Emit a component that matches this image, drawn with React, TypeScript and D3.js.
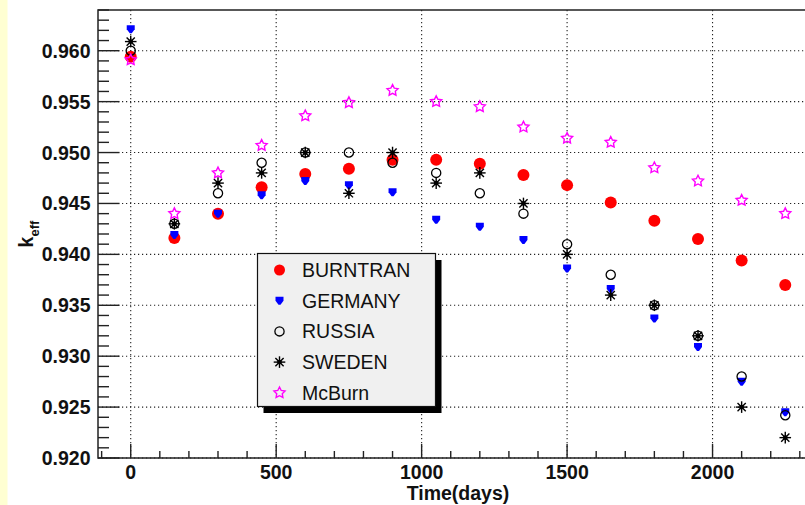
import { useEffect, useRef } from "react";
import * as d3 from "d3";

const days = [0, 150, 300, 450, 600, 750, 900, 1050, 1200, 1350, 1500, 1650, 1800, 1950, 2100, 2250];

const burntran = [0.9594, 0.9416, 0.944, 0.9466, 0.9479, 0.9484, 0.9493, 0.9493, 0.9489, 0.9478, 0.9468, 0.9451, 0.9433, 0.9415, 0.9394, 0.937];
const germany = [0.9621, 0.9419, 0.944, 0.9458, 0.9472, 0.9468, 0.9461, 0.9434, 0.9427, 0.9414, 0.9386, 0.9366, 0.9337, 0.9309, 0.9275, 0.9245];
const russia = [0.96, 0.943, 0.946, 0.949, 0.95, 0.95, 0.949, 0.948, 0.946, 0.944, 0.941, 0.938, 0.935, 0.932, 0.928, 0.9242];
const sweden = [0.9609, 0.943, 0.947, 0.948, 0.95, 0.946, 0.95, 0.947, 0.948, 0.945, 0.94, 0.936, 0.935, 0.932, 0.925, 0.922];
const mcburn = [0.9591, 0.944, 0.948, 0.9507, 0.9536, 0.9549, 0.9561, 0.955, 0.9545, 0.9525, 0.9514, 0.951, 0.9485, 0.9472, 0.9453, 0.944];

const seriesNames = ["BURNTRAN", "GERMANY", "RUSSIA", "SWEDEN", "McBurn"];
const seriesValues = [burntran, germany, russia, sweden, mcburn];

const FONT = "'Liberation Sans', Arial, Helvetica, sans-serif";

function starPath(outer: number, inner: number) {
    const pts: [number, number][] = [];
    for (let i = 0; i < 10; i++) {
        const r = i % 2 === 0 ? outer : inner;
        const a = -Math.PI / 2 + (i * Math.PI) / 5;
        pts.push([r * Math.cos(a), r * Math.sin(a)]);
    }
    return "M" + pts.map((p) => p.join(",")).join("L") + "Z";
}

// draws marker of a given series index at (cx, cy)
function drawMarker(g: d3.Selection<SVGGElement, unknown, null, undefined>, idx: number, cx: number, cy: number) {
    const m = g.append("g").attr("transform", `translate(${cx},${cy})`);
    if (idx === 0) {
        m.append("circle").attr("r", 6).attr("fill", "#ff0000");
    } else if (idx === 1) {
        m.append("path").attr("d", "M-4,-4L4,-4L4,0L1,4L-1,4L-4,0Z").attr("fill", "#0000ff");
    } else if (idx === 2) {
        m.append("circle").attr("r", 4.6).attr("fill", "none").attr("stroke", "#000").attr("stroke-width", 1.3);
    } else if (idx === 3) {
        [0, 45, 90, 135].forEach((a) => {
            const r = 5.8;
            const dx = r * Math.cos((a * Math.PI) / 180);
            const dy = r * Math.sin((a * Math.PI) / 180);
            m.append("line").attr("x1", -dx).attr("y1", -dy).attr("x2", dx).attr("y2", dy)
                .attr("stroke", "#000").attr("stroke-width", 1.4);
        });
        m.append("circle").attr("r", 2.4).attr("fill", "#000");
    } else {
        m.append("path").attr("d", starPath(5.8, 2.9)).attr("fill", "none")
            .attr("stroke", "#ff00ff").attr("stroke-width", 1.4);
    }
}

export default function App() {
    const ref = useRef<SVGSVGElement | null>(null);

    useEffect(() => {
        if (!ref.current) return;
        document.body.style.margin = "0";
        const width = 805;
        const height = 505;
        const left = 98, right = 818, top = 10, bottom = 458;

        const svg = d3.select(ref.current);
        svg.selectAll("*").remove();
        svg.attr("width", width).attr("height", height);

        svg.append("rect").attr("width", width).attr("height", height).attr("fill", "#ffffff");
        svg.append("rect").attr("width", 7.5).attr("height", height).attr("fill", "#ffffd2");

        const x = d3.scaleLinear().domain([-112.5, 2362.5]).range([left, right]);
        const y = d3.scaleLinear().domain([0.92, 0.964]).range([bottom, top]);

        const xMajor = x.ticks(5);
        const xMinor = x.ticks(25);
        const yMajor = y.ticks(9);
        const yMinor = y.ticks(44);

        // grid
        const grid = svg.append("g").attr("stroke", "#222").attr("stroke-width", 1.1).attr("stroke-dasharray", "1.2 2.8");
        xMajor.forEach((t) => {
            grid.append("line").attr("x1", x(t)).attr("x2", x(t)).attr("y1", top).attr("y2", bottom);
        });
        yMajor.forEach((t) => {
            grid.append("line").attr("x1", left).attr("x2", right).attr("y1", y(t)).attr("y2", y(t));
        });

        // ticks
        const ticks = svg.append("g").attr("stroke", "#222").attr("stroke-width", 1.4);
        xMinor.forEach((t) => {
            const major = xMajor.some((m) => Math.abs(m - t) < 1e-6);
            ticks.append("line").attr("x1", x(t)).attr("x2", x(t)).attr("y1", bottom).attr("y2", bottom - (major ? 14 : 7));
        });
        yMinor.forEach((t) => {
            const major = yMajor.some((m) => Math.abs(m - t) < 1e-7);
            ticks.append("line").attr("x1", left).attr("x2", left + (major ? 21.5 : 11)).attr("y1", y(t)).attr("y2", y(t));
        });

        // frame
        svg.append("rect").attr("x", left).attr("y", top).attr("width", right - left).attr("height", bottom - top)
            .attr("fill", "none").attr("stroke", "#222").attr("stroke-width", 1.5);

        // tick labels
        const labels = svg.append("g").attr("font-family", FONT).attr("font-weight", "bold").attr("font-size", 19.5).attr("fill", "#111");
        xMajor.forEach((t) => {
            labels.append("text").attr("x", x(t)).attr("y", 478.5).attr("text-anchor", "middle").text(d3.format("d")(t));
        });
        yMajor.forEach((t) => {
            labels.append("text").attr("x", 90.5).attr("y", y(t)).attr("dy", "0.36em").attr("text-anchor", "end").text(d3.format(".3f")(t));
        });

        // axis titles
        labels.append("text").attr("x", (left + right) / 2).attr("y", 500).attr("text-anchor", "middle").text("Time(days)");
        const yt = labels.append("text").attr("transform", `translate(33,${(top + bottom) / 2}) rotate(-90)`).attr("text-anchor", "middle");
        yt.append("tspan").text("k");
        yt.append("tspan").attr("font-size", 13).attr("dy", 6).text("eff");

        // markers
        const pts = svg.append("g");
        seriesValues.forEach((vals, si) => {
            vals.forEach((v, i) => drawMarker(pts, si, x(days[i]), y(v)));
        });

        // legend
        const lg = svg.append("g");
        const lx = 257.5, ly = 253.5, lw = 178, lh = 153;
        lg.append("rect").attr("x", lx + 6).attr("y", ly + 6.5).attr("width", lw).attr("height", lh).attr("fill", "#000");
        lg.append("rect").attr("x", lx).attr("y", ly).attr("width", lw).attr("height", lh)
            .attr("fill", "#f0f0f0").attr("stroke", "#111").attr("stroke-width", 1.2);
        seriesNames.forEach((name, i) => {
            const cy = 270 + i * 30.7;
            const mg = lg.append("g");
            if (i === 0) mg.append("circle").attr("cx", 279.5).attr("cy", cy).attr("r", 5.5).attr("fill", "#ff0000");
            else drawMarker(mg, i, 279.5, cy);
            lg.append("text").attr("x", 302).attr("y", cy).attr("dy", "0.36em")
                .attr("font-family", FONT).attr("font-size", 19.5).attr("fill", "#111").text(name);
        });
    }, []);

    return (
        <svg
            ref={(el) => { if (el) ref.current = el; }}
            style={{ position: "absolute", left: 0, top: 0, display: "block" }}
        />
    );
}
